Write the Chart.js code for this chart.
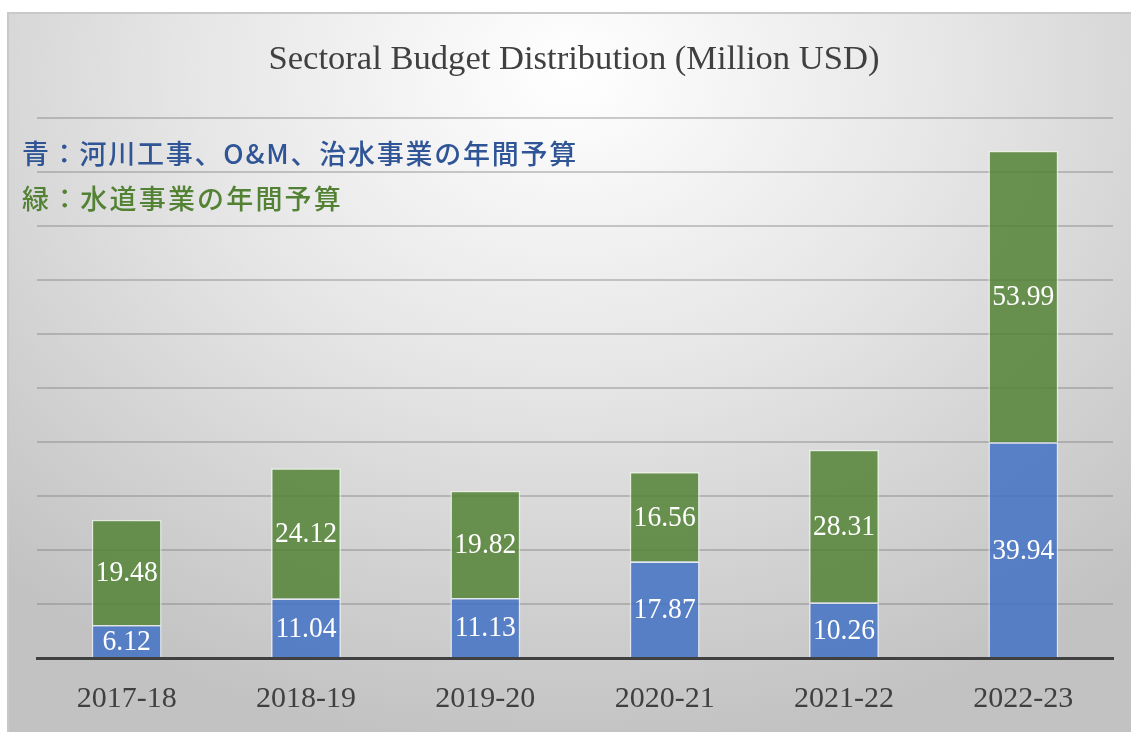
<!DOCTYPE html>
<html>
<head>
<meta charset="utf-8">
<script src="https://cdn.jsdelivr.net/npm/chart.js@4"></script>
<style>
  html,body{margin:0;padding:0;background:#fff;}
  #wrap{position:relative;width:1131px;height:732px;overflow:hidden;}
  #frame{position:absolute;left:7px;top:12px;right:0;bottom:0;
    border-top:2px solid #c9c9c9;border-left:2px solid #c9c9c9;
    background:radial-gradient(ellipse 75% 95% at 50% 8%, #ffffff 0%, #e6e6e6 45%, #d2d2d2 75%, #c2c2c2 100%);}
  #chart{position:absolute;left:0;top:0;}
</style>
</head>
<body>
<div id="wrap">
  <div id="frame"></div>
  <canvas id="chart" width="1131" height="732"></canvas>
</div>
<script>
/* DATA */
const categories = ["2017-18","2018-19","2019-20","2020-21","2021-22","2022-23"];
const riverBudget = [6.12, 11.04, 11.13, 17.87, 10.26, 39.94];   // blue
const waterBudget = [19.48, 24.12, 19.82, 16.56, 28.31, 53.99];  // green
const yTicks = [0,10,20,30,40,50,60,70,80,90,100];

const titleText = "Sectoral Budget Distribution (Million USD)";
const noteBlue = "青：河川工事、O&M、治水事業の年間予算";
const noteGreen = "緑：水道事業の年間予算";

/* draw text squeezed / stretched to a given width */
function fitText(ctx, text, x, y, width, align){
  const w = ctx.measureText(text).width;
  const sx = width / w;
  ctx.save();
  ctx.translate(x, y);
  ctx.scale(sx, 1);
  ctx.textAlign = align;
  ctx.fillText(text, 0, 0);
  ctx.restore();
}

/* spread characters out to reach a given width */
function spacedText(ctx, text, x, y, width){
  ctx.save();
  ctx.letterSpacing = "0px";
  const w = ctx.measureText(text).width;
  const n = [...text].length;
  ctx.letterSpacing = ((width - w) / n).toFixed(2) + "px";
  ctx.textAlign = "left";
  ctx.fillText(text, x, y);
  ctx.restore();
}

/* value labels inside each segment */
const barLabels = {
  id:"barLabels",
  afterDatasetsDraw(chart){
    const ctx = chart.ctx;
    ctx.save();
    ctx.font = "30px 'Liberation Serif'";
    ctx.fillStyle = "#ffffff";
    ctx.textBaseline = "middle";
    chart.data.datasets.forEach((ds,i)=>{
      chart.getDatasetMeta(i).data.forEach((bar,j)=>{
        const txt = ds.data[j].toFixed(2);
        const w = ctx.measureText(txt).width * 0.92;
        fitText(ctx, txt, bar.x, (bar.y + bar.base)/2 + 1, w, "center");
      });
    });
    ctx.restore();
  }
};

/* title + colour notes */
const headings = {
  id:"headings",
  afterDraw(chart){
    const ctx = chart.ctx;
    ctx.save();
    ctx.textBaseline = "middle";
    ctx.fillStyle = "#404040";
    ctx.font = "34px 'Liberation Serif'";
    fitText(ctx, titleText, 574, 60, 611, "center");

    ctx.font = "500 27px 'Noto Sans CJK JP'";
    ctx.fillStyle = "#2f5597";
    spacedText(ctx, noteBlue, 22, 154, 556);
    ctx.fillStyle = "#548235";
    spacedText(ctx, noteGreen, 22, 199, 321);
    ctx.restore();
  }
};

new Chart(document.getElementById("chart"), {
  type:"bar",
  data:{
    labels: categories,
    datasets:[
      { label:"blue", data: riverBudget, backgroundColor:"rgba(68,114,196,0.86)",
        borderColor:"rgba(235,242,250,0.75)", borderWidth:1.5 },
      { label:"green", data: waterBudget, backgroundColor:"rgba(84,130,53,0.86)",
        borderColor:"rgba(235,245,230,0.75)", borderWidth:1.5 }
    ]
  },
  options:{
    responsive:false,
    animation:false,
    devicePixelRatio:1,
    layout:{ padding:{ left:37, right:18, top:118, bottom:0 } },
    plugins:{ legend:{ display:false }, tooltip:{ enabled:false } },
    datasets:{ bar:{ barPercentage:0.39, categoryPercentage:1 } },
    scales:{
      x:{
        stacked:true,
        grid:{ display:false, drawTicks:false },
        border:{ display:true, color:"#404040", width:3 },
        ticks:{ color:"#404040", font:{ family:"'Liberation Serif'", size:30 }, padding:23 },
        afterFit(s){ s.height = 74; }
      },
      y:{
        stacked:true,
        min:0, max:100,
        afterBuildTicks(s){ s.ticks = yTicks.map(v=>({ value:v })); },
        ticks:{ display:false },
        grid:{ color:"rgba(120,120,120,0.38)", lineWidth:2, drawTicks:false },
        border:{ display:false },
        afterFit(s){ s.width = 0; }
      }
    }
  },
  plugins:[barLabels, headings]
});
</script>
</body>
</html>
